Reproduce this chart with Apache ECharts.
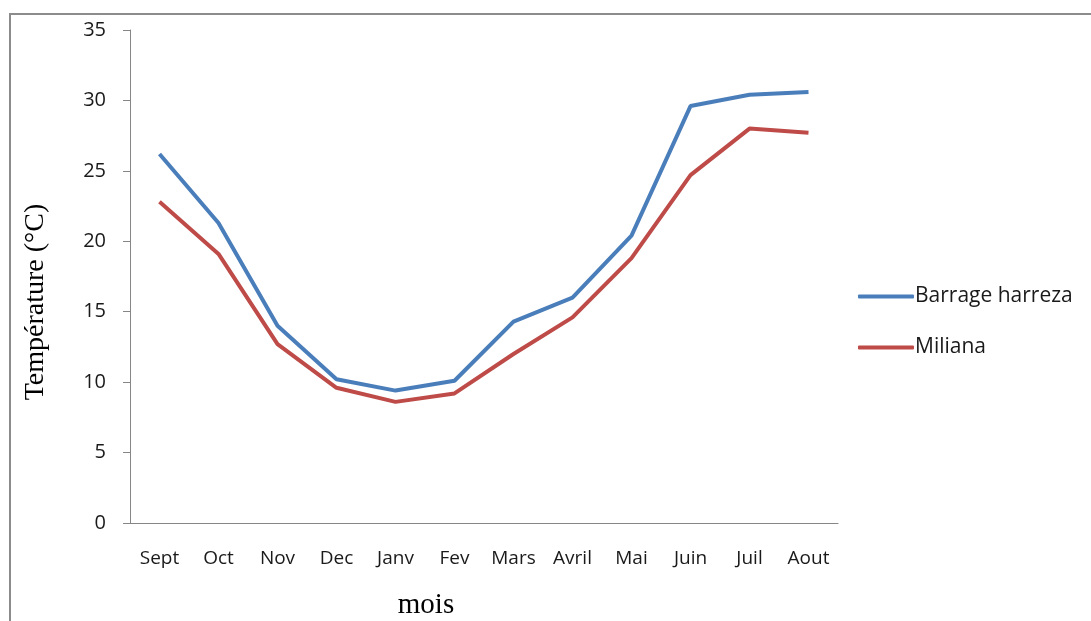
<!DOCTYPE html>
<html>
<head>
<meta charset="utf-8">
<script src="https://cdn.jsdelivr.net/npm/echarts@6/dist/echarts.min.js"></script>
<style>
  html, body { margin: 0; padding: 0; background: #fff; }
  #chart { width: 1091px; height: 621px; }
</style>
</head>
<body>
<div id="chart"></div>
<script>
// months (x axis)
var months = ['Sept', 'Oct', 'Nov', 'Dec', 'Janv', 'Fev', 'Mars', 'Avril', 'Mai', 'Juin', 'Juil', 'Aout'];
// mean temperatures
var barrageHarreza = [26.2, 21.3, 14.0, 10.2, 9.4, 10.1, 14.3, 16.0, 20.4, 29.6, 30.4, 30.6];
var miliana = [22.8, 19.1, 12.7, 9.6, 8.6, 9.2, 12.0, 14.6, 18.8, 24.7, 28.0, 27.7];

var chart = echarts.init(document.getElementById('chart'));

var labelFont = { fontFamily: '"Open Sans", sans-serif', fontSize: 20, color: '#1a1a1a' };

var option = {
    animation: false,
    backgroundColor: '#fff',
    grid: { left: 130, right: 253, top: 30, bottom: 98 },
    legend: {
        orient: 'vertical',
        left: 853,
        top: 281,
        icon: 'roundRect',
        itemWidth: 56,
        itemHeight: 4,
        itemGap: 30,
        textStyle: Object.assign({}, labelFont, { fontSize: 21, padding: [0, 0, 0, -4] }),
        data: ['Barrage harreza', 'Miliana']
    },
    xAxis: {
        type: 'category',
        data: months,
        boundaryGap: true,
        axisLine: { lineStyle: { color: '#868686', width: 1 } },
        axisTick: { length: 6, interval: 0, lineStyle: { color: '#868686' } },
        axisLabel: Object.assign({ margin: 26, interval: 0 }, labelFont, { fontSize: 19 }),
        splitLine: { show: false }
    },
    yAxis: {
        type: 'value',
        min: 0,
        max: 35,
        interval: 5,
        axisLine: { show: true, lineStyle: { color: '#868686', width: 1 } },
        axisTick: { show: true, inside: false, length: 7, lineStyle: { color: '#868686' } },
        axisLabel: Object.assign({ margin: 24 }, labelFont),
        splitLine: { show: false }
    },
    graphic: [
        {
            type: 'rect',
            shape: { x: 10, y: 14, width: 1100, height: 650 },
            style: { fill: 'none', stroke: '#8c8c8c', lineWidth: 2 },
            silent: true
        },
        {
            type: 'text',
            x: 36,
            y: 302,
            rotation: Math.PI / 2,
            style: {
                text: 'Température (°C)',
                font: '28px "Liberation Serif", "Times New Roman", serif',
                fill: '#000',
                align: 'center',
                verticalAlign: 'middle'
            }
        },
        {
            type: 'text',
            x: 426,
            y: 605,
            style: {
                text: 'mois',
                font: '29px "Liberation Serif", "Times New Roman", serif',
                fill: '#000',
                align: 'center',
                verticalAlign: 'middle'
            }
        }
    ],
    series: [
        {
            name: 'Barrage harreza',
            type: 'line',
            data: barrageHarreza,
            symbol: 'none',
            color: '#4a7ebb',
            lineStyle: { width: 4, color: '#4a7ebb' }
        },
        {
            name: 'Miliana',
            type: 'line',
            data: miliana,
            symbol: 'none',
            color: '#be4b48',
            lineStyle: { width: 4, color: '#be4b48' }
        }
    ]
};

chart.setOption(option);
</script>
</body>
</html>
